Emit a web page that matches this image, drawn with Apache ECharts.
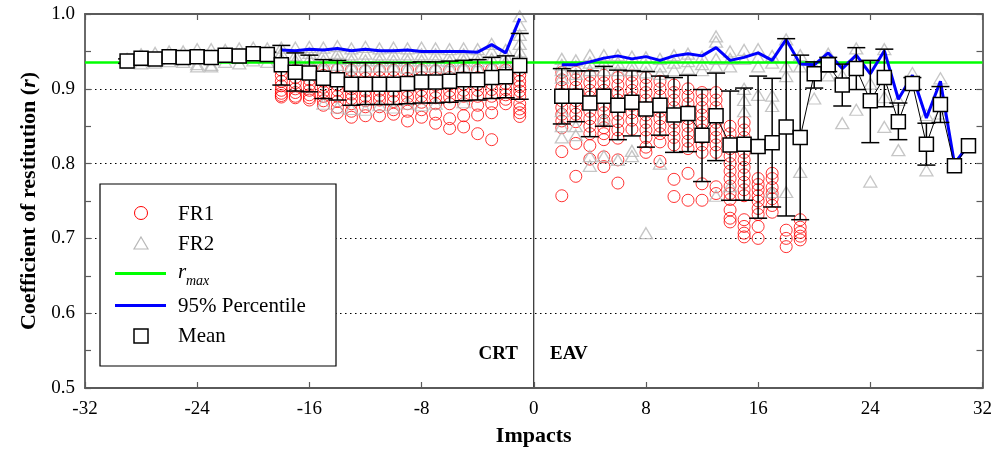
<!DOCTYPE html>
<html><head><meta charset="utf-8">
<script src="https://cdn.jsdelivr.net/npm/echarts@6/dist/echarts.min.js"></script>
<style>html,body{margin:0;padding:0;background:#fff}#c{width:995px;height:453px}</style>
</head><body><div id="c"></div><script>
const FONT = 'Liberation Serif';
const xTicks = [-32, 32, 8];
const yTicks = [0.5, 1.0, 0.1];
const rmax = 0.935;

const impactsCRT = [-29,-28,-27,-26,-25,-24,-23,-22,-21,-20,-19,-18,-17,-16,-15,-14,-13,-12,-11,-10,-9,-8,-7,-6,-5,-4,-3,-2,-1];
const meanCRT = [0.937,0.941,0.940,0.943,0.942,0.943,0.942,0.945,0.944,0.947,0.946,0.932,0.922,0.921,0.914,0.912,0.906,0.906,0.906,0.906,0.907,0.909,0.909,0.910,0.912,0.912,0.915,0.916,0.931];
const hiCRT = [0.940,0.944,0.944,0.946,0.946,0.946,0.945,0.948,0.948,0.950,0.949,0.958,0.948,0.945,0.939,0.938,0.935,0.935,0.935,0.935,0.935,0.936,0.936,0.937,0.938,0.939,0.942,0.944,0.974];
const loCRT = [0.934,0.937,0.936,0.939,0.938,0.939,0.938,0.941,0.940,0.943,0.942,0.905,0.897,0.896,0.887,0.885,0.878,0.879,0.879,0.879,0.880,0.881,0.881,0.882,0.884,0.885,0.887,0.888,0.886];

const impactsEAV = [2,3,4,5,6,7,8,9,10,11,12,13,14,15,16,17,18,19,20,21,22,23,24,25,26,27,28,29,30,31];
const meanEAV = [0.890,0.890,0.881,0.890,0.878,0.882,0.873,0.878,0.865,0.867,0.838,0.864,0.825,0.826,0.823,0.828,0.849,0.835,0.920,0.932,0.905,0.927,0.884,0.915,0.856,0.907,0.826,0.879,0.797,0.824];
const hiEAV = [0.927,0.924,0.924,0.930,0.925,0.924,0.923,0.917,0.915,0.918,0.899,0.921,0.897,0.901,0.917,0.914,0.967,0.945,0.936,0.942,0.933,0.955,0.938,0.953,0.881,0.915,0.854,0.903,null,null];
const loEAV = [0.853,0.856,0.836,0.850,0.832,0.837,0.822,0.838,0.815,0.816,0.776,0.804,0.751,0.751,0.727,0.742,0.730,0.725,0.901,0.923,0.877,0.899,0.828,0.876,0.832,0.899,0.798,0.855,null,null];

const p95ImpactsCRT = [-18,-17,-16,-15,-14,-13,-12,-11,-10,-9,-8,-7,-6,-5,-4,-3,-2,-1];
const p95CRT = [0.952,0.951,0.953,0.952,0.954,0.951,0.953,0.951,0.951,0.952,0.950,0.950,0.950,0.950,0.949,0.959,0.948,0.994];
const p95EAV = [0.932,0.932,0.936,0.941,0.944,0.940,0.943,0.938,0.944,0.947,0.944,0.955,0.938,0.942,0.948,0.938,0.966,0.933,0.932,0.948,0.927,0.945,0.920,0.951,0.886,0.918,0.861,0.910,0.800,0.825];

const fr1Impacts = [-18,-17,-16,-15,-14,-13,-12,-11,-10,-9,-8,-7,-6,-5,-4,-3,-2,-1,2,3,4,5,6,7,8,9,10,11,12,13,14,15,16,17,18,19];
const fr1Values = [
  [0.925,0.918,0.910,0.904,0.898,0.894,0.891,0.889],
  [0.925,0.915,0.908,0.900,0.895,0.890,0.888],
  [0.928,0.920,0.912,0.905,0.898,0.892,0.888,0.885],
  [0.926,0.918,0.910,0.902,0.896,0.890,0.884,0.878],
  [0.926,0.915,0.905,0.898,0.890,0.883,0.875,0.868],
  [0.925,0.915,0.908,0.900,0.893,0.887,0.880,0.870,0.862],
  [0.924,0.914,0.905,0.897,0.890,0.884,0.876,0.864],
  [0.925,0.915,0.906,0.898,0.891,0.885,0.876,0.864],
  [0.925,0.915,0.905,0.897,0.890,0.883,0.872,0.866],
  [0.925,0.914,0.905,0.897,0.889,0.880,0.870,0.857],
  [0.925,0.915,0.906,0.898,0.890,0.882,0.872,0.862],
  [0.924,0.914,0.905,0.896,0.888,0.880,0.866,0.854],
  [0.925,0.915,0.906,0.897,0.889,0.880,0.860,0.847],
  [0.925,0.915,0.906,0.898,0.890,0.880,0.864,0.849],
  [0.925,0.915,0.906,0.898,0.890,0.878,0.865,0.840],
  [0.926,0.916,0.907,0.899,0.890,0.880,0.868,0.832],
  [0.925,0.916,0.907,0.899,0.892,0.886,0.880],
  [0.925,0.918,0.910,0.903,0.897,0.890,0.880,0.873,0.868,0.863],
  [0.922,0.912,0.902,0.893,0.884,0.875,0.866,0.857,0.848,0.816,0.757],
  [0.922,0.912,0.902,0.893,0.884,0.875,0.866,0.856,0.827,0.783],
  [0.918,0.908,0.898,0.889,0.880,0.870,0.860,0.850,0.840,0.824,0.806],
  [0.918,0.908,0.898,0.888,0.878,0.868,0.858,0.848,0.840,0.832,0.809,0.796],
  [0.915,0.905,0.895,0.885,0.876,0.866,0.856,0.845,0.834,0.805,0.774],
  [0.918,0.908,0.898,0.888,0.878,0.868,0.858,0.846],
  [0.915,0.905,0.895,0.885,0.875,0.865,0.855,0.845,0.835,0.822,0.815],
  [0.910,0.900,0.890,0.880,0.870,0.860,0.850,0.840,0.829,0.803],
  [0.905,0.895,0.885,0.875,0.865,0.855,0.845,0.835,0.825,0.779,0.756],
  [0.900,0.890,0.880,0.870,0.860,0.850,0.840,0.830,0.820,0.787,0.751],
  [0.895,0.885,0.875,0.865,0.855,0.845,0.835,0.825,0.815,0.773,0.751],
  [0.895,0.885,0.875,0.865,0.855,0.845,0.835,0.825,0.815,0.769,0.760],
  [0.850,0.840,0.830,0.820,0.810,0.800,0.790,0.780,0.770,0.760,0.752,0.738,0.727,0.722],
  [0.855,0.845,0.835,0.825,0.815,0.805,0.795,0.785,0.775,0.765,0.757,0.725,0.716,0.707,0.702],
  [0.780,0.772,0.765,0.757,0.750,0.740,0.732,0.716,0.700],
  [0.787,0.780,0.768,0.760,0.753,0.744,0.735],
  [0.711,0.700,0.689],
  [0.725,0.715,0.708,0.703,0.698]
];

const fr2Impacts = [-29,-28,-27,-26,-25,-24,-23,-22,-21,-20,-19,-18,-17,-16,-15,-14,-13,-12,-11,-10,-9,-8,-7,-6,-5,-4,-3,-2,-1,2,3,4,5,6,7,8,9,10,11,12,13,14,15,16,17,18,19,20,21,22,23,24,25,26,27,28,29];
const fr2Values = [
  [0.940,0.935],
  [0.946,0.938,0.934],
  [0.948,0.940,0.935],
  [0.950,0.942,0.937],
  [0.950,0.943,0.936],
  [0.953,0.944,0.933,0.930],
  [0.953,0.944,0.932,0.930],
  [0.952,0.946,0.936],
  [0.954,0.946,0.934],
  [0.955,0.948,0.938],
  [0.954,0.947,0.936],
  [0.955,0.948,0.940,0.935],
  [0.955,0.945,0.938,0.930],
  [0.956,0.948,0.940,0.932],
  [0.955,0.946,0.938,0.930,0.880],
  [0.957,0.948,0.940,0.932,0.875],
  [0.954,0.946,0.938,0.930,0.920,0.873],
  [0.956,0.947,0.938,0.930,0.872],
  [0.954,0.946,0.938,0.930,0.878],
  [0.955,0.946,0.938,0.930,0.875],
  [0.954,0.946,0.938,0.928,0.880],
  [0.955,0.946,0.938,0.930,0.878],
  [0.954,0.946,0.938,0.930,0.880],
  [0.953,0.945,0.937,0.929],
  [0.954,0.946,0.938,0.930,0.882],
  [0.953,0.945,0.937,0.929],
  [0.960,0.950,0.940,0.930],
  [0.952,0.944,0.936,0.928],
  [0.997,0.985,0.972,0.960,0.950,0.940,0.930],
  [0.940,0.932,0.925,0.915,0.870,0.850,0.835],
  [0.938,0.930,0.920,0.850,0.838],
  [0.945,0.935,0.925,0.810,0.797],
  [0.945,0.935,0.925,0.860,0.810],
  [0.945,0.935,0.925,0.805],
  [0.943,0.933,0.925,0.817,0.810],
  [0.942,0.932,0.922,0.707],
  [0.940,0.930,0.920,0.800],
  [0.945,0.935,0.925,0.872],
  [0.947,0.937,0.927,0.866],
  [0.943,0.933,0.925,0.843],
  [0.970,0.963,0.940,0.930,0.757],
  [0.950,0.940,0.930,0.770],
  [0.952,0.940,0.900,0.885,0.870],
  [0.953,0.942,0.930,0.892],
  [0.944,0.935,0.891,0.877,0.762],
  [0.966,0.930,0.917,0.762],
  [0.945,0.930,0.789],
  [0.930,0.887],
  [0.947,0.930,0.918],
  [0.918,0.854],
  [0.954,0.872],
  [0.907,0.776],
  [0.953,0.889,0.849],
  [0.885,0.818],
  [0.921],
  [0.865,0.791],
  [0.914,0.867]
];

const pairs = (xs, ys) => xs.map((x, i) => [x, ys[i]]);
const flatPts = (xs, vals) => xs.flatMap((x, i) => vals[i].map(v => [x, v]));
const errData = pairs(impactsCRT, loCRT).map((p, i) => [p[0], loCRT[i], hiCRT[i]])
  .concat(impactsEAV.map((x, i) => [x, loEAV[i], hiEAV[i]]).filter(d => d[1] != null));

const axisColor = '#5a5a5a';
const tickStyle = {inside: true, length: 6, lineStyle: {color: axisColor, width: 1.2}};
const lineAx = {show: true, onZero: false, lineStyle: {color: axisColor, width: 1.8}};

const chart = echarts.init(document.getElementById('c'), null, {renderer: 'canvas'});
const meanStyle = {
  type: 'line', symbol: 'rect', symbolSize: 14, z: 10,
  lineStyle: {color: '#000', width: 1},
  itemStyle: {color: '#fff', borderColor: '#000', borderWidth: 1.5}
};
chart.setOption({
  animation: false,
  grid: {left: 85, right: 12, top: 14, bottom: 65},
  xAxis: [
    {type: 'value', position: 'bottom', min: xTicks[0], max: xTicks[1], interval: xTicks[2], z: 5,
     axisLine: lineAx, axisTick: tickStyle, splitLine: {show: false},
     axisLabel: {fontFamily: FONT, fontSize: 19, color: '#000', margin: 12},
     name: 'Impacts', nameLocation: 'middle', nameGap: 37,
     nameTextStyle: {fontFamily: FONT, fontSize: 22, fontWeight: 'bold', color: '#000'}},
    {type: 'value', position: 'top', min: xTicks[0], max: xTicks[1], interval: xTicks[2], z: 5,
     axisLine: lineAx, axisTick: tickStyle, splitLine: {show: false}, axisLabel: {show: false}}
  ],
  yAxis: [
    {type: 'value', position: 'left', min: yTicks[0], max: yTicks[1], interval: yTicks[2],
     axisLine: lineAx, axisTick: tickStyle,
     minorTick: {show: true, splitNumber: 2, length: 6, lineStyle: {color: axisColor, width: 1.2}},
     splitLine: {show: true, lineStyle: {color: '#000', width: 1, type: [1.5, 3.5]}},
     axisLabel: {fontFamily: FONT, fontSize: 19, color: '#000', margin: 10, formatter: v => v.toFixed(1)},
     name: '{b|Coefficient of restitution (}{i|r}{b|)}', nameLocation: 'middle', nameGap: 43, nameRotate: 90,
     nameTextStyle: {rich: {
       b: {fontFamily: FONT, fontSize: 22, fontWeight: 'bold', color: '#000'},
       i: {fontFamily: FONT, fontSize: 22, fontWeight: 'bold', fontStyle: 'italic', color: '#000'}}}},
    {type: 'value', position: 'right', min: yTicks[0], max: yTicks[1], interval: yTicks[2],
     axisLine: lineAx, axisTick: tickStyle,
     minorTick: {show: true, splitNumber: 2, length: 6, lineStyle: {color: axisColor, width: 1.2}},
     splitLine: {show: false}, axisLabel: {show: false}}
  ],
  series: [
    {name: 'FR1', type: 'scatter', symbol: 'circle', symbolSize: 12, z: 2,
     itemStyle: {color: 'rgba(0,0,0,0)', borderColor: '#ff0000', borderWidth: 1},
     data: flatPts(fr1Impacts, fr1Values)},
    {name: 'FR2', type: 'scatter', symbol: 'triangle', symbolSize: [13, 11], z: 3,
     itemStyle: {color: 'rgba(0,0,0,0)', borderColor: '#b8b8b8', borderWidth: 1.3},
     data: flatPts(fr2Impacts, fr2Values)},
    {name: 'divider', type: 'line', symbol: 'none', z: 4,
     lineStyle: {color: '#000', width: 1}, data: [[0, yTicks[0]], [0, yTicks[1]]]},
    {name: 'rmax', type: 'line', symbol: 'none', z: 5,
     lineStyle: {color: '#00ff00', width: 2.5}, data: [[xTicks[0], rmax], [xTicks[1], rmax]]},
    {name: '95% Percentile', type: 'line', symbol: 'none', z: 6,
     lineStyle: {color: '#0000ff', width: 3}, data: pairs(p95ImpactsCRT, p95CRT)},
    {name: '95% Percentile', type: 'line', symbol: 'none', z: 6,
     lineStyle: {color: '#0000ff', width: 3}, data: pairs(impactsEAV, p95EAV)},
    {name: 'err', type: 'custom', z: 8, data: errData,
     renderItem: (params, api) => {
       const x = api.value(0);
       const lo = api.coord([x, api.value(1)]);
       const hi = api.coord([x, api.value(2)]);
       const w = 9;
       const st = {stroke: '#000', lineWidth: 1.5};
       return {type: 'group', children: [
         {type: 'line', shape: {x1: lo[0], y1: lo[1], x2: hi[0], y2: hi[1]}, style: st},
         {type: 'line', shape: {x1: lo[0] - w, y1: lo[1], x2: lo[0] + w, y2: lo[1]}, style: st},
         {type: 'line', shape: {x1: hi[0] - w, y1: hi[1], x2: hi[0] + w, y2: hi[1]}, style: st}
       ]};
     }},
    Object.assign({name: 'Mean', data: pairs(impactsCRT, meanCRT)}, meanStyle),
    Object.assign({name: 'Mean', data: pairs(impactsEAV, meanEAV)}, meanStyle)
  ],
  graphic: [
    {type: 'rect', shape: {x: 100, y: 184, width: 236, height: 182}, style: {fill: '#fff', stroke: '#000', lineWidth: 1.2}, z: 20},
    {type: 'circle', shape: {cx: 141, cy: 213, r: 6.5}, style: {fill: 'none', stroke: '#ff0000', lineWidth: 1}, z: 21},
    {type: 'polygon', shape: {points: [[141, 237], [148, 249], [134, 249]]}, style: {fill: 'none', stroke: '#b8b8b8', lineWidth: 1.2}, z: 21},
    {type: 'line', shape: {x1: 115, y1: 273.5, x2: 166, y2: 273.5}, style: {stroke: '#00ff00', lineWidth: 3}, z: 21},
    {type: 'line', shape: {x1: 115, y1: 305.5, x2: 166, y2: 305.5}, style: {stroke: '#0000ff', lineWidth: 3}, z: 21},
    {type: 'rect', shape: {x: 134, y: 329, width: 14, height: 14}, style: {fill: '#fff', stroke: '#000', lineWidth: 1.5}, z: 21},
    {type: 'text', x: 178, y: 214, style: {text: 'FR1', font: '21px "Liberation Serif"', fill: '#000', verticalAlign: 'middle'}, z: 21},
    {type: 'text', x: 178, y: 244, style: {text: 'FR2', font: '21px "Liberation Serif"', fill: '#000', verticalAlign: 'middle'}, z: 21},
    {type: 'text', x: 178, y: 272, style: {text: 'r', font: 'italic 21px "Liberation Serif"', fill: '#000', verticalAlign: 'middle'}, z: 21},
    {type: 'text', x: 186, y: 281, style: {text: 'max', font: 'italic 14px "Liberation Serif"', fill: '#000', verticalAlign: 'middle'}, z: 21},
    {type: 'text', x: 178, y: 306, style: {text: '95% Percentile', font: '21px "Liberation Serif"', fill: '#000', verticalAlign: 'middle'}, z: 21},
    {type: 'text', x: 178, y: 336, style: {text: 'Mean', font: '21px "Liberation Serif"', fill: '#000', verticalAlign: 'middle'}, z: 21},
    {type: 'text', x: 518, y: 354, style: {text: 'CRT', font: 'bold 19px "Liberation Serif"', fill: '#000', align: 'right', verticalAlign: 'middle'}, z: 21},
    {type: 'text', x: 550, y: 354, style: {text: 'EAV', font: 'bold 19px "Liberation Serif"', fill: '#000', align: 'left', verticalAlign: 'middle'}, z: 21}
  ]
});
</script></body></html>
